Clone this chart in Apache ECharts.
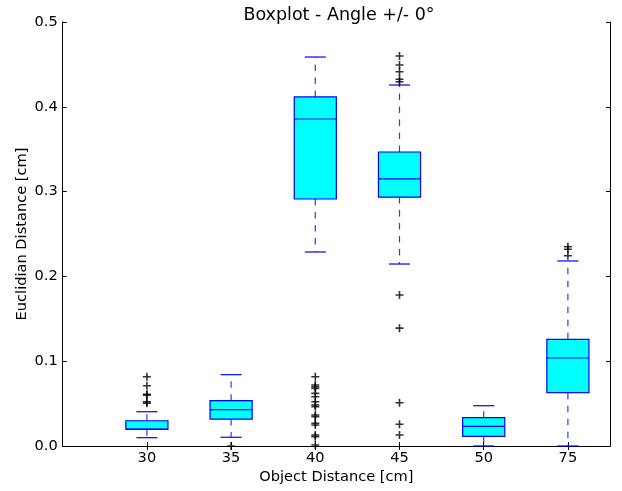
<!DOCTYPE html>
<html>
<head>
<meta charset="utf-8">
<script src="https://cdn.jsdelivr.net/npm/echarts@6/dist/echarts.min.js"></script>
<style>
html,body{margin:0;padding:0;background:#fff;}
#chart{width:622px;height:491px;}
</style>
</head>
<body>
<div id="chart"></div>
<script>
// Categories (object distance, cm)
const categories = ['30', '35', '40', '45', '50', '75'];
// Box statistics: [lower whisker, Q1, median, Q3, upper whisker]
const whiskerLow = [0.0098, 0.0103, 0.2288, 0.2146, 0.0, 0.0];
const q1Values   = [0.0197, 0.0318, 0.2913, 0.2936, 0.0114, 0.0629];
const medians    = [0.0200, 0.0428, 0.3856, 0.3149, 0.0232, 0.1038];
const q3Values   = [0.0298, 0.0534, 0.4116, 0.3467, 0.0334, 0.1258];
const whiskerHigh= [0.0404, 0.0841, 0.4587, 0.4257, 0.0475, 0.2182];
// Outliers per category
const outliers30 = [0.0817, 0.0711, 0.0610, 0.0600, 0.0504, 0.0520];
const outliers35 = [0.0];
const outliers40 = [0.0817, 0.0720, 0.0699, 0.0680, 0.0621, 0.0581, 0.0522, 0.0483, 0.0464, 0.0366, 0.0346, 0.0268, 0.0248, 0.0130, 0.0110, 0.0012];
const outliers45 = [0.4599, 0.4493, 0.4414, 0.4324, 0.4296, 0.1780, 0.1390, 0.0510, 0.0256, 0.0130];
const outliers50 = [];
const outliers75 = [0.2350, 0.2320, 0.2244];
// Y tick values
const yTicks = [0.0, 0.1, 0.2, 0.3, 0.4, 0.5];

const outlierLists = [outliers30, outliers35, outliers40, outliers45, outliers50, outliers75];

// Axis slots: xlim 0..6.5 in half-steps, boxes at 1..6
const slots = [];
for (let i = 0; i <= 13; i++) {
  if (i >= 2 && i % 2 === 0) slots.push(categories[(i - 2) / 2]);
  else slots.push('_' + i);
}
const isReal = v => !String(v).startsWith('_');

const boxData = categories.map((c, i) => [c, whiskerLow[i], q1Values[i], medians[i], q3Values[i], whiskerHigh[i]]);
const outlierData = [];
categories.forEach((c, i) => outlierLists[i].forEach(v => outlierData.push([c, v])));

const BLUE = '#0000ff';
function renderBox(params, api) {
  const x = api.value(0);
  const pLo = api.coord([x, api.value(1)]);
  const pQ1 = api.coord([x, api.value(2)]);
  const pMed = api.coord([x, api.value(3)]);
  const pQ3 = api.coord([x, api.value(4)]);
  const pHi = api.coord([x, api.value(5)]);
  const w = api.size([1, 0])[0];
  const cx = pLo[0];
  const lw = 1.2;
  return {
    type: 'group',
    children: [
      { type: 'line', shape: { x1: cx, y1: pQ3[1], x2: cx, y2: pHi[1] },
        style: { stroke: BLUE, lineWidth: lw, lineDash: [6.5, 6.5], opacity: 0.8 } },
      { type: 'line', shape: { x1: cx, y1: pQ1[1], x2: cx, y2: pLo[1] },
        style: { stroke: BLUE, lineWidth: lw, lineDash: [6.5, 6.5], opacity: 0.8 } },
      { type: 'line', shape: { x1: cx - w / 4, y1: pHi[1], x2: cx + w / 4, y2: pHi[1] },
        style: { stroke: BLUE, lineWidth: lw } },
      { type: 'line', shape: { x1: cx - w / 4, y1: pLo[1], x2: cx + w / 4, y2: pLo[1] },
        style: { stroke: BLUE, lineWidth: lw } },
      { type: 'rect', shape: { x: cx - w / 2, y: pQ3[1], width: w, height: pQ1[1] - pQ3[1] },
        style: { fill: '#00ffff', stroke: BLUE, lineWidth: lw } },
      { type: 'line', shape: { x1: cx - w / 2, y1: pMed[1], x2: cx + w / 2, y2: pMed[1] },
        style: { stroke: BLUE, lineWidth: lw } }
    ]
  };
}

const FONT = 'DejaVu Sans';
const chart = echarts.init(document.getElementById('chart'), null, { renderer: 'canvas' });
const axisLineStyle = { show: true, lineStyle: { color: '#000', width: 1 } };
chart.setOption({
  animation: false,
  backgroundColor: '#fff',
  textStyle: { fontFamily: FONT },
  title: {
    text: 'Boxplot - Angle +/- 0°',
    left: 334, top: 1, textAlign: 'center',
    textStyle: { fontFamily: FONT, fontSize: 17.5, fontWeight: 'normal', color: '#000' }
  },
  grid: { left: 62.7, right: 12, top: 22, bottom: 45, containLabel: false },
  xAxis: [
    {
      type: 'category', data: slots, boundaryGap: false, position: 'bottom',
      axisLine: axisLineStyle,
      axisTick: { show: true, inside: true, length: 4, interval: (i, v) => isReal(v), lineStyle: { color: '#000' } },
      axisLabel: { interval: 0, formatter: v => isReal(v) ? v : '', color: '#000', fontFamily: FONT, fontSize: 14.6, margin: 5 },
      splitLine: { show: false },
      name: 'Object Distance [cm]', nameLocation: 'middle', nameGap: 24, nameMoveOverlap: false,
      nameTextStyle: { fontFamily: FONT, fontSize: 14.6, color: '#000' }
    },
    {
      type: 'category', data: slots, boundaryGap: false, position: 'top',
      axisLine: axisLineStyle,
      axisTick: { show: true, inside: true, length: 4, interval: (i, v) => isReal(v), lineStyle: { color: '#000' } },
      axisLabel: { show: false }, splitLine: { show: false }
    }
  ],
  yAxis: [
    {
      type: 'value', min: yTicks[0], max: yTicks[yTicks.length - 1], interval: 0.1, position: 'left',
      axisLine: axisLineStyle,
      axisTick: { show: true, inside: true, length: 4, lineStyle: { color: '#000' } },
      axisLabel: { formatter: v => v.toFixed(1), color: '#000', fontFamily: FONT, fontSize: 14.6, margin: 5 },
      splitLine: { show: false },
      name: 'Euclidian Distance [cm]', nameLocation: 'middle', nameGap: 33, nameRotate: 90, nameMoveOverlap: false,
      nameTextStyle: { fontFamily: FONT, fontSize: 14.6, color: '#000' }
    },
    {
      type: 'value', min: yTicks[0], max: yTicks[yTicks.length - 1], interval: 0.1, position: 'right',
      axisLine: axisLineStyle,
      axisTick: { show: true, inside: true, length: 4, lineStyle: { color: '#000' } },
      axisLabel: { show: false }, splitLine: { show: false }
    }
  ],
  series: [
    {
      type: 'custom', renderItem: renderBox, data: boxData,
      encode: { x: 0, y: [1, 2, 3, 4, 5] }, z: 2, clip: false
    },
    {
      type: 'scatter', data: outlierData, z: 3,
      symbol: 'path://M0,4L8,4M4,0L4,8', symbolSize: 8,
      itemStyle: { color: 'transparent', borderColor: '#000', borderWidth: 1.6 },
      emphasis: { disabled: true }
    }
  ]
});
</script>
</body>
</html>
